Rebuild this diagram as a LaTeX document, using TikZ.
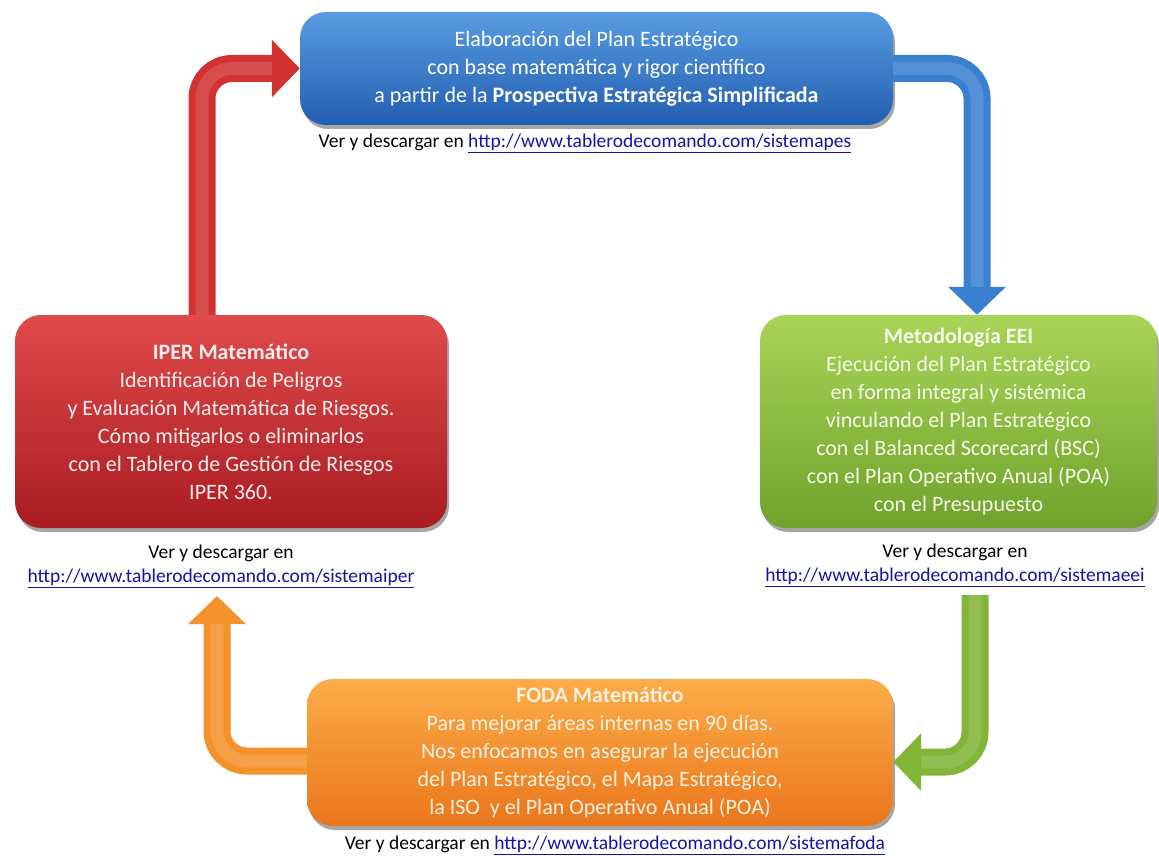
\documentclass[tikz,border=0pt]{standalone}
\usepackage{fontspec}
\setmainfont{Carlito}
\usetikzlibrary{arrows.meta,shadows,calc}
\definecolor{blueT}{RGB}{88,156,226}
\definecolor{blueB}{RGB}{34,94,176}
\definecolor{blueA}{RGB}{58,128,208}
\definecolor{redT}{RGB}{224,74,74}
\definecolor{redB}{RGB}{168,28,34}
\definecolor{redA}{RGB}{210,50,50}
\definecolor{greenT}{RGB}{170,212,88}
\definecolor{greenB}{RGB}{112,162,44}
\definecolor{greenA}{RGB}{130,180,56}
\definecolor{orT}{RGB}{252,172,72}
\definecolor{orB}{RGB}{234,118,28}
\definecolor{orA}{RGB}{244,146,44}
\definecolor{urlc}{RGB}{20,20,170}
\newcommand\lnk[1]{\textcolor{urlc}{\underline{#1}}}
\begin{document}
\begin{tikzpicture}[x=1pt,y=-1pt,
  box/.style={rounded corners=26pt, draw=none, align=center, inner sep=0pt,
    drop shadow={shadow xshift=2pt,shadow yshift=-4pt,opacity=0.35,fill=black}},
  boxtext/.style={font=\fontsize{22}{28}\selectfont},
  captxt/.style={align=center, font=\fontsize{19.5}{24}\selectfont, text=black},
  fat/.style={line width=27pt, draw=#1, -{Triangle[width=56pt,length=28pt]}, rounded corners=30pt},
  shine/.style={line width=13pt, draw=white, opacity=0.13, shorten >=28pt, rounded corners=30pt},
]
\useasboundingbox (0,0) rectangle (1159,856);
\fill[white] (0,0) rectangle (1159,856);

\node[box, top color=blueT, bottom color=blueB, minimum width=593pt, minimum height=113pt,
  boxtext, text=white] (plan) at (596.5,68.5)
  {Elaboración del Plan Estratégico\\con base matemática y rigor científico\\a partir de la \textbf{Prospectiva Estratégica Simplificada}};

\node[box, top color=redT, bottom color=redB, minimum width=432pt, minimum height=213pt,
  boxtext, text={rgb,255:red,255;green,236;blue,236}] (iper) at (231,421.5)
  {\textbf{IPER Matemático}\\Identificación de Peligros\\y Evaluación Matemática de Riesgos.\\Cómo mitigarlos o eliminarlos\\con el Tablero de Gestión de Riesgos\\IPER 360.};

\node[box, top color=greenT, bottom color=greenB, minimum width=397pt, minimum height=213pt,
  boxtext, text={rgb,255:red,244;green,250;blue,232}] (eei) at (958.5,421.5)
  {\textbf{Metodología EEI}\\Ejecución del Plan Estratégico\\en forma integral y sistémica\\vinculando el Plan Estratégico\\con el Balanced Scorecard (BSC)\\con el Plan Operativo Anual (POA)\\con el Presupuesto};

\node[box, top color=orT, bottom color=orB, minimum width=586pt, minimum height=147pt,
  boxtext, text={rgb,255:red,255;green,242;blue,224}] (foda) at (600,752.5)
  {\textbf{FODA Matemático}\\Para mejorar áreas internas en 90 días.\\Nos enfocamos en asegurar la ejecución\\del Plan Estratégico, el Mapa Estratégico,\\la ISO\ \ y el Plan Operativo Anual (POA)};

\node[captxt] (capplan) at (585,143) {Ver y descargar en \lnk{http://www.tablerodecomando.com/sistemapes}};
\node[captxt] (capiper) at (221,566) {Ver y descargar en\\\lnk{http://www.tablerodecomando.com/sistemaiper}};
\node[captxt] (capeei) at (955,565) {Ver y descargar en\\\lnk{http://www.tablerodecomando.com/sistemaeei}};
\node[captxt] (capfoda) at (615,845) {Ver y descargar en \lnk{http://www.tablerodecomando.com/sistemafoda}};

\coordinate (gtop) at (975,595);
\coordinate (otip) at (217,596);

\draw[fat=blueA] (plan.east) -| ($(eei.north)+(18.5,0)$);
\draw[shine] (plan.east) -| ($(eei.north)+(18.5,0)$);
\draw[fat=redA] ($(iper.north)+(-29,0)$) |- (plan.west);
\draw[shine] ($(iper.north)+(-29,0)$) |- (plan.west);
\draw[fat=greenA] (gtop) |- ($(foda.east)+(0,9.5)$);
\draw[shine] (gtop) |- ($(foda.east)+(0,9.5)$);
\draw[fat=orA] ($(foda.west)+(0,8.5)$) -| (otip);
\draw[shine] ($(foda.west)+(0,8.5)$) -| (otip);
\end{tikzpicture}
\end{document}
